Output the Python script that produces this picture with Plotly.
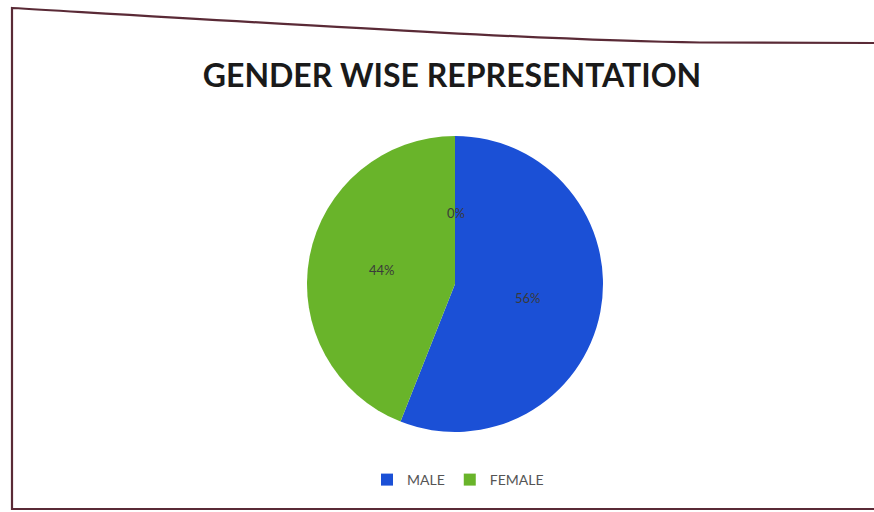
import plotly.graph_objects as go

# Gender split (percent of respondents)
categories = ["MALE", "FEMALE"]
values = [56, 44]
# Blank third category shown only as its value label
other_value = 0

colors = ["#1b50d6", "#69b42a"]

W, H = 874, 512


def px(x, y):
    """Pixel position -> paper coordinates."""
    return f"{x / W:.5f} {1 - y / H:.5f}"


fig = go.Figure()
fig.add_trace(go.Pie(
    labels=categories,
    values=values,
    sort=False,
    direction="clockwise",
    rotation=0,
    marker=dict(colors=colors, line=dict(width=0)),
    textinfo="percent",
    texttemplate="%{percent:.0%}",
    textposition="inside",
    insidetextorientation="horizontal",
    textfont=dict(family="Lato, Open Sans, sans-serif", size=13, color="#3a3a3a"),
    domain=dict(x=[307 / W, 603 / W], y=[1 - 432 / H, 1 - 136 / H]),
    hoverinfo="label+percent",
))

total = sum(values) + other_value
fig.add_annotation(
    x=456 / W, y=1 - 213 / H, xref="paper", yref="paper",
    text=f"{round(100 * other_value / total)}%",
    showarrow=False,
    font=dict(family="Lato, Open Sans, sans-serif", size=13, color="#3a3a3a"),
)

# Chart frame
frame_color = "#5a2a36"
fig.add_shape(
    type="path", xref="paper", yref="paper",
    path=(f"M {px(874, 43)} L {px(700, 42.5)} "
          f"C {px(560, 41)} {px(300, 25)} {px(12, 8)} "
          f"L {px(12, 509)} L {px(874, 509)}"),
    line=dict(color=frame_color, width=2.2),
)

fig.update_layout(
    width=W, height=H,
    margin=dict(l=0, r=0, t=0, b=0),
    paper_bgcolor="white",
    plot_bgcolor="white",
    title=dict(
        text="<b>GENDER WISE REPRESENTATION</b>",
        x=452 / W, xanchor="center",
        y=1 - 76 / H, yanchor="middle",
        font=dict(family="Lato, Open Sans, sans-serif", size=32, color="#1a1a1a"),
    ),
    showlegend=True,
    legend=dict(
        orientation="h",
        x=458 / W, xanchor="center",
        y=1 - 480 / H, yanchor="middle",
        font=dict(family="Lato, Open Sans, sans-serif", size=14, color="#555555"),
        itemwidth=30,
        traceorder="normal",
    ),
)

fig.write_html("out.html")
